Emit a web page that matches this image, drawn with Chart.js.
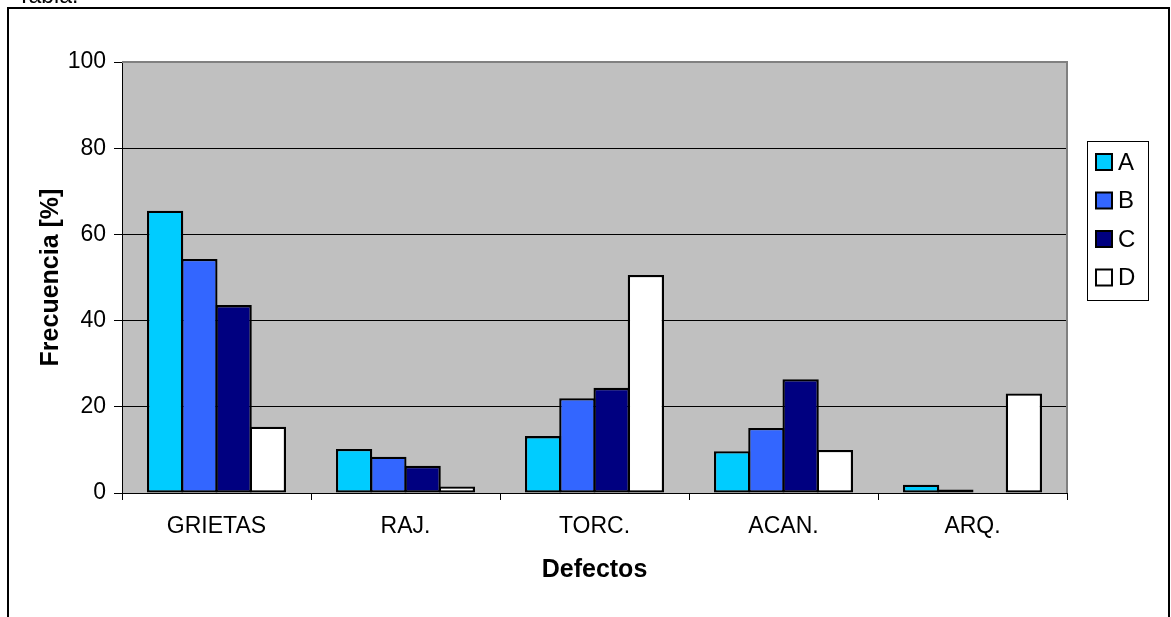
<!DOCTYPE html>
<html>
<head>
<meta charset="utf-8">
<script src="https://cdn.jsdelivr.net/npm/chart.js@4/dist/chart.umd.min.js"></script>
<style>
  html, body { margin: 0; padding: 0; background: #fff; }
  #wrap { position: relative; width: 1171px; height: 617px; }
</style>
</head>
<body>
<div id="wrap"><canvas id="c" width="1171" height="617"></canvas></div>
<script>
// Defect categories and frequency (%) for each group
const categories = ['GRIETAS', 'RAJ.', 'TORC.', 'ACAN.', 'ARQ.'];
const serieA = [65.5, 10.2, 13.2, 9.7, 1.9];
const serieB = [54.3, 8.4, 22.0, 15.1, 0.8];
const serieC = [43.6, 6.3, 24.4, 26.4, 0];
const serieD = [15.4, 1.5, 50.6, 10.0, 23.1];
const seriesNames = ['A', 'B', 'C', 'D'];
const yTicks = [0, 20, 40, 60, 80, 100];

const FONT = '"Liberation Sans", Arial, sans-serif';
const colors = ['#00CCFF', '#3366FF', '#000080', '#FFFFFF'];
const values = [serieA, serieB, serieC, serieD];

const decor = {
  id: 'decor',
  beforeDraw(chart) {
    const { ctx, chartArea: a } = chart;
    ctx.save();
    // outer frame
    ctx.strokeStyle = '#000';
    ctx.lineWidth = 2;
    ctx.strokeRect(8, 8, 1161, 640);
    // caption above the frame
    ctx.fillStyle = '#000';
    ctx.font = '23px ' + FONT;
    ctx.textBaseline = 'alphabetic';
    ctx.fillText('Tabla.', 17, 3);
    // plot background
    ctx.fillStyle = '#C0C0C0';
    ctx.fillRect(a.left, a.top, a.right - a.left, a.bottom - a.top);
    ctx.restore();
  },
  afterDraw(chart) {
    const { ctx, chartArea: a } = chart;
    ctx.save();
    // top and right edge of plot
    ctx.strokeStyle = '#808080';
    ctx.lineWidth = 2;
    ctx.beginPath();
    ctx.moveTo(a.left, a.top);
    ctx.lineTo(a.right, a.top);
    ctx.lineTo(a.right, a.bottom);
    ctx.stroke();
    // legend box
    const lx = 1087, ly = 141, lw = 61, lh = 159;
    ctx.strokeStyle = '#000';
    ctx.lineWidth = 1;
    ctx.strokeRect(lx + 0.5, ly + 0.5, lw, lh);
    ctx.font = '24px ' + FONT;
    ctx.textBaseline = 'middle';
    chart.data.datasets.forEach((ds, i) => {
      const cy = 162 + i * 38.5;
      ctx.fillStyle = ds.backgroundColor;
      ctx.fillRect(1096, cy - 8, 16, 16);
      ctx.lineWidth = 2;
      ctx.strokeStyle = '#000';
      ctx.strokeRect(1096, cy - 8, 16, 16);
      ctx.fillStyle = '#000';
      ctx.fillText(ds.label, 1118, cy + 1);
    });
    ctx.restore();
  }
};

new Chart(document.getElementById('c'), {
  type: 'bar',
  data: {
    labels: categories,
    datasets: seriesNames.map((n, i) => ({
      label: n,
      data: values[i],
      backgroundColor: colors[i],
      borderColor: '#000',
      borderWidth: 2.3,
      borderSkipped: false,
      categoryPercentage: 0.725,
      barPercentage: 1.06
    }))
  },
  options: {
    responsive: false,
    animation: false,
    layout: { padding: { top: 62, right: 104, left: 0, bottom: 0 } },
    plugins: { legend: { display: false }, tooltip: { enabled: false } },
    scales: {
      x: {
        afterFit(s) { s.height = 124; },
        grid: { offset: true, drawOnChartArea: false, drawTicks: true, tickLength: 7, color: '#000' },
        border: { color: '#000', width: 1 },
        ticks: { color: '#000', font: { family: FONT, size: 23 }, padding: 13, maxRotation: 0 },
        title: { display: true, text: 'Defectos', color: '#000',
                 font: { family: FONT, size: 25, weight: 'bold' }, padding: { top: 0, bottom: 32 } }
      },
      y: {
        min: 0, max: 100,
        afterFit(s) { s.width = 122; },
        afterBuildTicks(s) { s.ticks = yTicks.map(v => ({ value: v })); },
        grid: { color: '#000', lineWidth: 1, tickLength: 8 },
        border: { color: '#000', width: 1 },
        ticks: { color: '#000', font: { family: FONT, size: 23 }, padding: 8 },
        title: { display: true, text: 'Frecuencia [%]', color: '#000',
                 font: { family: FONT, size: 25, weight: 'bold' }, padding: { top: 36, bottom: 0 } }
      }
    }
  },
  plugins: [decor]
});
</script>
</body>
</html>
